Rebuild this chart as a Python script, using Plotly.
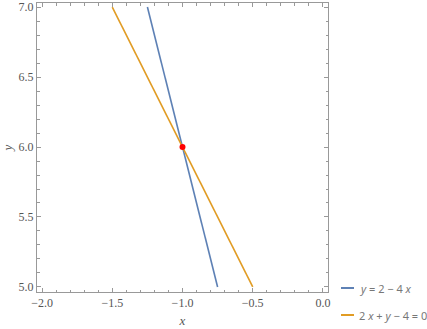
import plotly.graph_objects as go

# data
blue_x = [-1.25, -0.75]
blue_y = [7.0, 5.0]
orange_x = [-1.5, -0.5]
orange_y = [7.0, 5.0]
point_x = [-1.0]
point_y = [6.0]
legend_labels = ["<i>y</i> = 2 − 4 <i>x</i>", "2 <i>x</i> + <i>y</i> − 4 = 0"]
colors = ["#5E81B5", "#E19C24"]

fig = go.Figure()
fig.add_trace(go.Scatter(x=blue_x, y=blue_y, mode="lines",
                         line=dict(color=colors[0], width=1.6), showlegend=False))
fig.add_trace(go.Scatter(x=orange_x, y=orange_y, mode="lines",
                         line=dict(color=colors[1], width=1.6), showlegend=False))
fig.add_trace(go.Scatter(x=point_x, y=point_y, mode="markers",
                         marker=dict(color="#FF0000", size=6), showlegend=False))

axis_common = dict(
    showgrid=False, zeroline=False, showline=True, linecolor="#999999", linewidth=1,
    mirror="allticks", ticks="inside", ticklen=4, tickcolor="#999999", tickwidth=1,
    tickfont=dict(family="Liberation Serif", size=12, color="#555555"),
    minor=dict(ticks="inside", ticklen=2.5, tickcolor="#999999", dtick=0.1),
    automargin=False,
)
fig.update_xaxes(range=[-2.036, 0.036], tickvals=[-2, -1.5, -1, -0.5, 0],
                 ticktext=["−2.0", "−1.5", "−1.0", "−0.5", "0.0"],
                 title=dict(text="<i>x</i>", font=dict(family="Liberation Serif", size=13, color="#555555"), standoff=6),
                 **axis_common)
fig.update_yaxes(range=[4.964, 7.029], tickvals=[5, 5.5, 6, 6.5, 7],
                 ticktext=["5.0", "5.5", "6.0", "6.5", "7.0"],
                 title=dict(text="<i>y</i>", font=dict(family="Liberation Serif", size=13, color="#555555"), standoff=4),
                 **axis_common)

# legend drawn manually at the right
leg_y = [288, 315]
for i, (lab, c) in enumerate(zip(legend_labels, colors)):
    yp = 1 - (leg_y[i] - 3) / (292 - 3)
    fig.add_shape(type="line", xref="paper", yref="paper",
                  x0=(341 - 37) / 291, x1=(354 - 37) / 291, y0=yp, y1=yp,
                  line=dict(color=c, width=2))
    fig.add_annotation(xref="paper", yref="paper", x=(357 - 37) / 291, y=yp,
                       text=lab, showarrow=False, xanchor="left", yanchor="middle",
                       font=dict(family="Noto Sans", size=11, color="#777777"))

fig.update_layout(
    width=427, height=329,
    margin=dict(l=37, r=99, t=3, b=37, autoexpand=False),
    plot_bgcolor="white", paper_bgcolor="white",
)
fig.write_html("out.html", config={"displayModeBar": False},
               post_script="document.body.style.margin='0';")
